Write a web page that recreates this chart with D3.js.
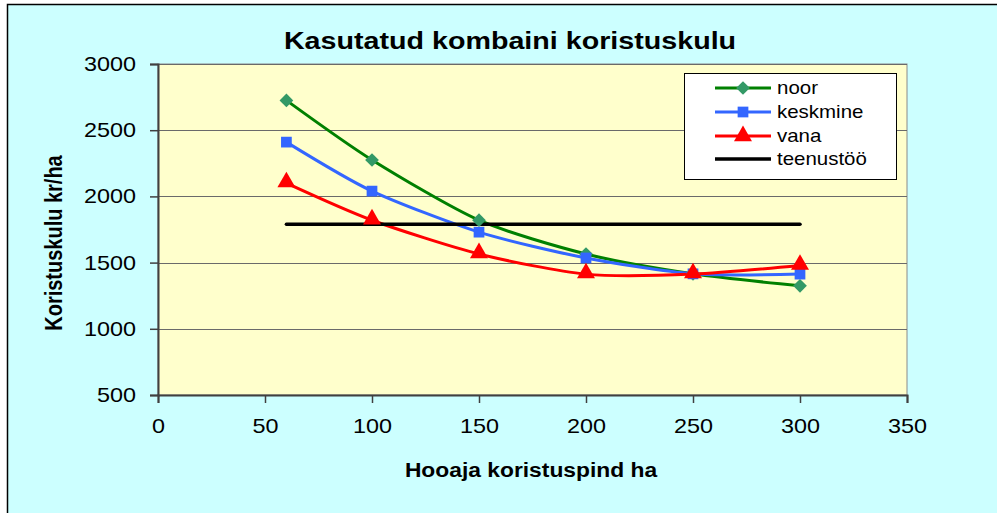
<!DOCTYPE html>
<html>
<head>
<meta charset="utf-8">
<script src="https://cdn.jsdelivr.net/npm/d3@7"></script>
<style>
  html, body { margin: 0; padding: 0; background: #fff; }
  svg { display: block; font-family: "Liberation Sans", Arial, sans-serif; }
</style>
</head>
<body>
<svg id="chart" width="997" height="513"></svg>
<script>
// ---- data ----
const areas = [60, 100, 150, 200, 250, 300];
const noor = [2725, 2275, 1820, 1565, 1415, 1325];
const keskmine = [2410, 2040, 1730, 1535, 1415, 1413];
const vana = [2100, 1820, 1565, 1413, 1413, 1478];
const teenustooX = [60, 300];
const teenustoo = [1790, 1790];
const seriesNames = ["noor", "keskmine", "vana", "teenustöö"];
const xTicks = [0, 50, 100, 150, 200, 250, 300, 350];
const yTicks = [500, 1000, 1500, 2000, 2500, 3000];
const title = "Kasutatud kombaini koristuskulu";
const xTitle = "Hooaja koristuspind ha";
const yTitle = "Koristuskulu kr/ha";

// ---- layout ----
const svg = d3.select("#chart");
const SX = 1.17; // horizontal stretch of text
const plot = { left: 158, right: 907, top: 64, bottom: 395 };

svg.append("rect").attr("x", 7.5).attr("y", 4.5).attr("width", 1000).attr("height", 520)
  .attr("fill", "#CCFFFF").attr("stroke", "#000").attr("stroke-width", 1.5);

const x = d3.scaleLinear().domain([0, 350]).range([plot.left, plot.right]);
const y = d3.scaleLinear().domain([500, 3000]).range([plot.bottom, plot.top]);

svg.append("rect").attr("x", plot.left).attr("y", plot.top)
  .attr("width", plot.right - plot.left).attr("height", plot.bottom - plot.top)
  .attr("fill", "#FFFFCC").attr("stroke", "#8a8a8a").attr("stroke-width", 1);

// gridlines
svg.append("g").selectAll("line").data(yTicks.filter(d => d > 500)).join("line")
  .attr("x1", plot.left).attr("x2", plot.right)
  .attr("y1", d => Math.round(y(d)) + 0.5).attr("y2", d => Math.round(y(d)) + 0.5)
  .attr("stroke", "#6a6a6a").attr("stroke-width", 1);

// axes
const yAxis = d3.axisLeft(y).tickValues(yTicks).tickSize(8).tickPadding(14).tickFormat(d3.format("d"));
const gy = svg.append("g").attr("transform", `translate(${plot.left},0)`).call(yAxis);
gy.select(".domain").attr("stroke", "#404040").attr("stroke-width", 2);
gy.selectAll(".tick line").attr("stroke", "#404040").attr("stroke-width", 1.5);
gy.selectAll(".tick text").attr("font-size", 20).attr("fill", "#000")
  .attr("font-family", "Liberation Sans, Arial, sans-serif")
  .each(function() {
    const t = d3.select(this);
    const xx = +t.attr("x");
    t.attr("x", null).attr("transform", `translate(${xx},0) scale(${SX},1)`);
  });

const xAxis = d3.axisBottom(x).tickValues(xTicks).tickSize(8).tickPadding(16).tickFormat(d3.format("d"));
const gx = svg.append("g").attr("transform", `translate(0,${plot.bottom})`).call(xAxis);
gx.select(".domain").attr("stroke", "#404040").attr("stroke-width", 2);
gx.selectAll(".tick line").attr("stroke", "#404040").attr("stroke-width", 1.5);
gx.selectAll(".tick text").attr("font-size", 20).attr("fill", "#000")
  .attr("font-family", "Liberation Sans, Arial, sans-serif")
  .each(function() {
    const t = d3.select(this);
    const yy = +t.attr("y");
    t.attr("y", null).attr("transform", `translate(0,${yy}) scale(${SX},1)`);
  });

// titles
function stretchedText(xp, yp, txt, size, weight) {
  return svg.append("text")
    .attr("transform", `translate(${xp},${yp}) scale(${SX},1)`)
    .attr("text-anchor", "middle").attr("font-size", size).attr("font-weight", weight)
    .attr("fill", "#000").text(txt);
}
stretchedText(510, 49, title, 24.5, "bold");
stretchedText(531, 477, xTitle, 19.5, "bold");
svg.append("text")
  .attr("transform", `translate(62,243) scale(${SX},1) rotate(-90)`)
  .attr("text-anchor", "middle").attr("font-size", 20).attr("font-weight", "bold")
  .attr("fill", "#000").text(yTitle);

// lines
const line = d3.line().x(d => x(d[0])).y(d => y(d[1])).curve(d3.curveCardinal.tension(0.25));
const series = [
  { name: seriesNames[0], xs: areas, vals: noor, color: "#008000", marker: "diamond", mfill: "#339966" },
  { name: seriesNames[1], xs: areas, vals: keskmine, color: "#3366FF", marker: "square", mfill: "#3366FF" },
  { name: seriesNames[2], xs: areas, vals: vana, color: "#FF0000", marker: "triangle", mfill: "#FF0000" },
  { name: seriesNames[3], xs: teenustooX, vals: teenustoo, color: "#000000", marker: null, mfill: null }
];
const sym = {
  diamond: d3.symbol().type(d3.symbolDiamond2).size(120),
  square: d3.symbol().type(d3.symbolSquare).size(115),
  triangle: d3.symbol().type(d3.symbolTriangle).size(140)
};

series.forEach(s => {
  const pts = s.xs.map((xv, i) => [xv, s.vals[i]]);
  svg.append("path").datum(pts).attr("d", line)
    .attr("fill", "none").attr("stroke", s.color)
    .attr("stroke-width", s.marker ? 3 : 3.5).attr("stroke-linecap", "round");
});
series.forEach(s => {
  if (!s.marker) return;
  const pts = s.xs.map((xv, i) => [xv, s.vals[i]]);
  svg.append("g").selectAll("path").data(pts).join("path")
    .attr("transform", d => `translate(${x(d[0])},${y(d[1])})` + (s.marker === "triangle" ? " translate(0,-1)" : ""))
    .attr("d", sym[s.marker]).attr("fill", s.mfill);
});

// legend
const lg = svg.append("g");
lg.append("rect").attr("x", 684.5).attr("y", 73.5).attr("width", 212).attr("height", 106)
  .attr("fill", "#fff").attr("stroke", "#000").attr("stroke-width", 1);
const rowsY = [88, 112, 136, 159];
series.forEach((s, i) => {
  const ry = rowsY[i];
  lg.append("line").attr("x1", 715).attr("x2", 771).attr("y1", ry).attr("y2", ry)
    .attr("stroke", s.color).attr("stroke-width", s.marker ? 3 : 3.5);
  if (s.marker) {
    lg.append("path").attr("transform", `translate(743,${ry})`).attr("d", sym[s.marker]).attr("fill", s.mfill);
  }
  lg.append("text").attr("transform", `translate(777,${ry + 6}) scale(${SX},1)`)
    .attr("font-size", 17.5).attr("fill", "#000").text(s.name);
});
</script>
</body>
</html>
